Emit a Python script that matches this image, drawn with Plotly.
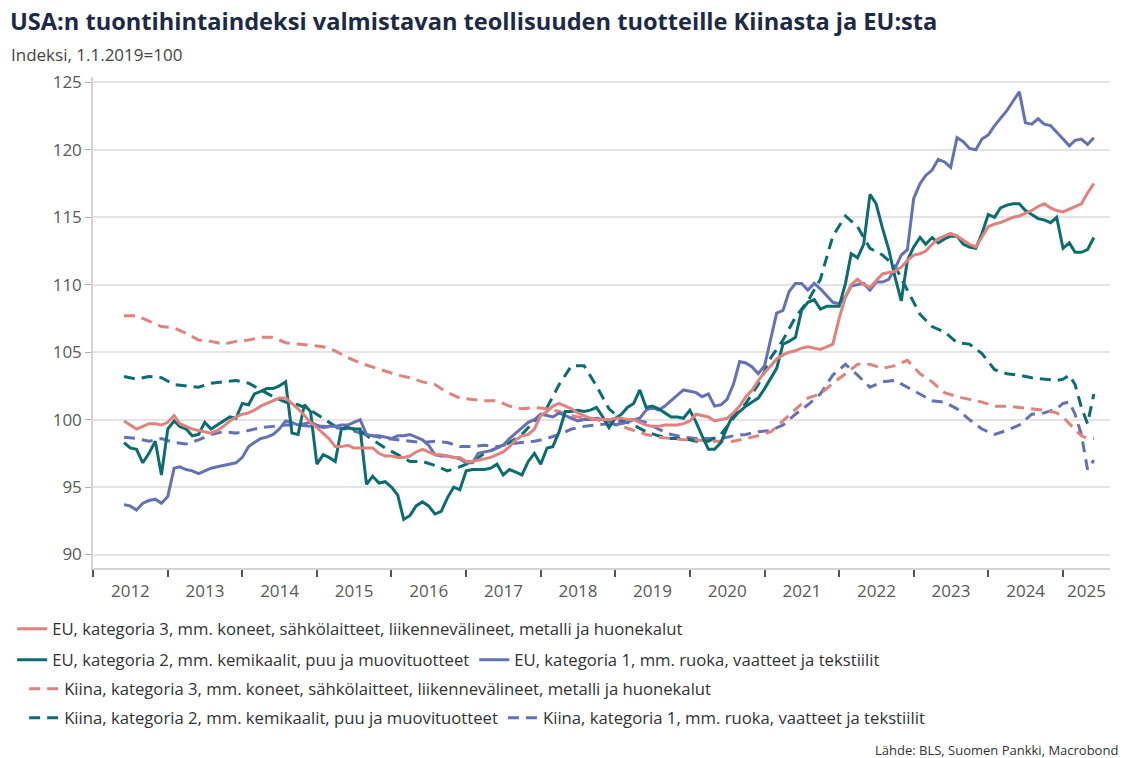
import pandas as pd
import plotly.graph_objects as go

# ---------------- data ----------------
dates_monthly = pd.date_range("2012-06-01", "2025-06-01", freq="MS")
dates_dashed = list(pd.date_range("2012-06-01", "2024-12-01", freq="2MS")) + \
    list(pd.date_range("2025-01-01", "2025-06-01", freq="MS"))

eu_kat3 = [
    99.9, 99.6, 99.3, 99.5, 99.7, 99.7, 99.6,
    99.8, 100.3, 99.7, 99.5, 99.3, 99.2, 99.1, 99.0, 99.2, 99.5, 99.9, 100.2,
    100.4, 100.5, 100.7, 101.0, 101.2, 101.4, 101.6, 101.6, 101.2, 100.8, 100.3, 99.8,
    99.4, 99.0, 98.6, 98.0, 98.0, 98.1, 97.9, 97.9, 97.9, 97.9, 97.5, 97.3,
    97.3, 97.2, 97.2, 97.3, 97.6, 97.8, 97.6, 97.4, 97.4, 97.3, 97.2, 97.2,
    96.9, 96.9, 97.0, 97.1, 97.2, 97.4, 97.6, 98.0, 98.5, 98.8, 98.9, 99.3,
    100.3, 100.6, 101.0, 101.2, 101.0, 100.8, 100.5, 100.3, 100.1, 100.0, 100.0, 100.0,
    100.1, 100.1, 100.0, 100.0, 99.8, 99.6, 99.5, 99.5, 99.6, 99.6, 99.6, 99.7,
    99.9, 100.4, 100.3, 100.2, 99.9, 100.0, 100.1, 100.5, 101.0, 101.7, 102.2, 102.9,
    103.5, 104.0, 104.5, 104.8, 105.0, 105.1, 105.3, 105.4, 105.3, 105.2, 105.4, 105.6,
    107.5, 109.1, 110.0, 110.4, 110.0, 109.8, 110.3, 110.8, 110.9, 111.0, 111.3, 111.8,
    112.2, 112.3, 112.5, 113.0, 113.4, 113.6, 113.8, 113.6, 113.3, 113.0, 112.8, 113.5,
    114.3, 114.5, 114.6, 114.8, 115.0, 115.1, 115.3, 115.5, 115.8, 116.0, 115.7, 115.5,
    115.4, 115.6, 115.8, 116.0, 116.8, 117.5,
]

eu_kat2 = [
    98.3, 97.9, 97.8, 96.8, 97.5, 98.4, 95.9,
    99.3, 99.9, 99.5, 99.3, 98.8, 98.9, 99.8, 99.3, 99.6, 99.9, 100.2, 100.1,
    101.2, 101.1, 101.9, 102.1, 102.3, 102.3, 102.5, 102.8, 99.0, 98.9, 101.1, 100.6,
    96.7, 97.4, 97.2, 96.9, 99.3, 99.4, 99.3, 99.3, 95.2, 95.8, 95.3, 95.4,
    95.0, 94.4, 92.6, 92.9, 93.6, 93.9, 93.6, 93.0, 93.2, 94.2, 95.0, 94.8,
    96.2, 96.3, 96.3, 96.3, 96.4, 96.7, 95.9, 96.3, 96.1, 95.9, 96.9, 97.5,
    96.7, 97.9, 98.0, 99.1, 100.6, 100.6, 100.7, 100.6, 100.7, 100.9, 100.2, 99.4,
    100.1, 100.4, 100.9, 101.2, 102.2, 100.9, 101.0, 100.8, 100.5, 100.2, 100.2, 100.1,
    100.7, 99.8, 98.8, 97.8, 97.8, 98.3, 99.4, 100.4, 100.6, 101.0, 101.3, 101.6,
    102.3, 103.1, 103.8, 105.6, 105.8, 106.1, 108.1, 108.7, 108.9, 108.2, 108.4, 108.4,
    108.4, 110.1, 112.3, 112.0, 113.0, 116.7, 116.0, 114.2, 112.6, 110.6, 108.8, 111.8,
    112.8, 113.5, 113.0, 113.5, 113.1, 113.4, 113.6, 113.6, 113.0, 112.8, 112.7, 113.8,
    115.2, 115.0, 115.7, 115.9, 116.0, 116.0, 115.5, 115.2, 114.9, 114.8, 114.6, 115.0,
    112.7, 113.1, 112.4, 112.4, 112.6, 113.5,
]

eu_kat1 = [
    93.7, 93.6, 93.3, 93.8, 94.0, 94.1, 93.8,
    94.3, 96.4, 96.5, 96.3, 96.2, 96.0, 96.2, 96.4, 96.5, 96.6, 96.7, 96.8,
    97.2, 98.0, 98.3, 98.6, 98.7, 98.9, 99.3, 99.9, 99.8, 99.6, 99.7, 99.8,
    99.6, 99.4, 99.5, 99.5, 99.6, 99.6, 99.8, 100.0, 98.9, 98.8, 98.8, 98.7,
    98.6, 98.8, 98.8, 98.9, 98.7, 98.5, 98.1, 97.4, 97.3, 97.3, 97.2, 97.1,
    96.8, 96.8, 97.5, 97.6, 97.7, 97.9, 98.1, 98.6, 99.0, 99.4, 99.8, 100.0,
    100.4, 100.3, 100.2, 100.5, 100.3, 100.1, 99.9, 100.0, 100.0, 100.1, 100.0, 99.9,
    99.6, 99.7, 99.8, 100.0, 100.1, 100.7, 100.9, 100.7, 101.0, 101.4, 101.8, 102.2,
    102.1, 102.0, 101.7, 101.9, 101.0, 101.1, 101.5, 102.6, 104.3, 104.2, 103.9, 103.4,
    104.0, 106.1, 107.9, 108.1, 109.5, 110.1, 110.1, 109.6, 110.1, 109.7, 109.2, 108.7,
    108.6, 109.1, 109.9, 110.0, 110.1, 109.6, 110.2, 110.2, 110.4, 111.2, 112.2, 112.6,
    116.4, 117.5, 118.1, 118.5, 119.3, 119.1, 118.7, 120.9, 120.6, 120.1, 120.0, 120.8,
    121.1, 121.8, 122.3, 122.9, 123.6, 124.3, 122.0, 121.9, 122.3, 121.9, 121.8, 121.3,
    120.8, 120.3, 120.7, 120.8, 120.4, 120.9,
]

kiina_kat3 = [
    107.7, 107.7, 107.3, 106.9,
    106.8, 106.4, 105.9, 105.8, 105.6, 105.8,
    105.9, 106.1, 106.1, 105.7, 105.6, 105.5,
    105.4, 105.1, 104.6, 104.2, 103.9, 103.6,
    103.3, 103.1, 102.8, 102.6, 102.0, 101.6,
    101.5, 101.4, 101.4, 101.0, 100.8, 100.9,
    100.8, 100.6, 100.3, 100.1, 100.0, 99.8,
    99.5, 99.2, 98.9, 98.7, 98.6, 98.5,
    98.5, 98.4, 98.4, 98.4, 98.6, 98.8,
    99.1, 99.9, 100.8, 101.6, 101.9, 102.7,
    103.4, 104.1, 104.1, 103.8, 104.0, 104.4,
    103.4, 102.8, 102.0, 101.7, 101.5, 101.3,
    101.0, 101.0, 100.9, 100.8, 100.7, 100.5,
    100.2, 99.7, 99.3, 98.8, 98.6, 98.6,
]

kiina_kat2 = [
    103.2, 103.0, 103.2, 103.1,
    102.6, 102.5, 102.4, 102.7, 102.8, 102.9,
    102.7, 102.2, 101.7, 101.3, 101.1, 100.7,
    100.1, 99.5, 99.4, 99.2, 98.5, 97.9,
    97.4, 96.9, 96.9, 96.6, 96.2, 96.5,
    96.9, 97.5, 97.9, 98.3, 98.9, 99.9,
    100.9, 102.6, 104.0, 104.0, 102.5, 100.8,
    100.0, 99.6, 99.1, 98.8, 98.6, 98.6,
    98.4, 98.4, 98.9, 100.1, 101.2, 102.6,
    104.6, 105.9, 107.6, 108.8, 110.4, 113.6,
    115.1, 114.3, 112.7, 112.2, 111.4, 109.6,
    107.8, 106.9, 106.5, 105.7, 105.6, 104.9,
    103.7, 103.4, 103.3, 103.1, 103.0, 102.9,
    103.0, 103.3, 102.6, 100.9, 99.7, 101.9,
]

kiina_kat1 = [
    98.7, 98.6, 98.4, 98.6,
    98.3, 98.2, 98.5, 98.9, 99.1, 99.0,
    99.2, 99.4, 99.5, 99.6, 99.6, 99.5,
    99.5, 99.4, 99.3, 99.0, 98.8, 98.6,
    98.5, 98.4, 98.3, 98.4, 98.3, 98.0,
    98.0, 98.1, 98.0, 98.2, 98.3, 98.4,
    98.6, 98.9, 99.3, 99.5, 99.6, 99.7,
    99.9, 100.0, 99.8, 99.3, 98.9, 98.7,
    98.6, 98.6, 98.6, 98.8, 98.9, 99.1,
    99.2, 99.6, 100.4, 101.1, 101.9, 103.3,
    104.1, 103.3, 102.4, 102.8, 102.9, 102.4,
    101.9, 101.4, 101.3, 100.8, 100.0, 99.3,
    98.9, 99.2, 99.6, 100.4, 100.5, 100.8,
    101.2, 101.3, 100.4, 98.9, 96.3, 97.0,
]

names = {
    "eu3": "EU, kategoria 3, mm. koneet, sähkölaitteet, liikennevälineet, metalli ja huonekalut",
    "eu2": "EU, kategoria 2, mm. kemikaalit, puu ja muovituotteet",
    "eu1": "EU, kategoria 1, mm. ruoka, vaatteet ja tekstiilit",
    "ki3": "Kiina, kategoria 3, mm. koneet, sähkölaitteet, liikennevälineet, metalli ja huonekalut",
    "ki2": "Kiina, kategoria 2, mm. kemikaalit, puu ja muovituotteet",
    "ki1": "Kiina, kategoria 1, mm. ruoka, vaatteet ja tekstiilit",
}
year_labels = [str(y) for y in range(2012, 2026)]

# ---------------- styling ----------------
PINK = "#e0827d"
TEAL = "#0b6d6f"
BLUE = "#6571b6"
FONT = "Open Sans"
W, H = 1124, 758
ML, MR, MT, MB = 91, 14, 77, 190
PW, PH = W - ML - MR, H - MT - MB
X_START, X_END = pd.Timestamp("2012-01-01"), pd.Timestamp("2025-08-19")
Y_MIN, Y_MAX = 89, 125.4
DASH = "11px,7px"


def px(xp):
    return (xp - ML) / PW


def py(yp):
    return (H - MB - yp) / PH


fig = go.Figure()
traces = [
    (dates_dashed, kiina_kat1, names["ki1"], BLUE, DASH, "legend4", 2),
    (dates_dashed, kiina_kat2, names["ki2"], TEAL, DASH, "legend4", 1),
    (dates_dashed, kiina_kat3, names["ki3"], PINK, DASH, "legend3", 1),
    (dates_monthly, eu_kat1, names["eu1"], BLUE, "solid", "legend2", 2),
    (dates_monthly, eu_kat2, names["eu2"], TEAL, "solid", "legend2", 1),
    (dates_monthly, eu_kat3, names["eu3"], PINK, "solid", "legend", 1),
]
for xs, ys, nm, col, dash, lg, rank in traces:
    fig.add_trace(go.Scatter(
        x=xs, y=ys, name=nm, mode="lines",
        line=dict(color=col, width=3, dash=dash),
        legend=lg, legendrank=rank,
    ))

# x tick label positions: centre of each year's visible span
label_pos = []
for y in range(2012, 2026):
    a = max(pd.Timestamp(f"{y}-01-01"), X_START)
    b = min(pd.Timestamp(f"{y + 1}-01-01"), X_END)
    label_pos.append(a + (b - a) / 2)

legend_common = dict(
    orientation="h", xanchor="left", yanchor="middle",
    font=dict(family=FONT, size=16.7, color="#333333"),
    bgcolor="rgba(0,0,0,0)", itemwidth=30, tracegroupgap=0,
    xref="paper", yref="paper",
)

fig.update_layout(
    width=W, height=H,
    margin=dict(l=ML, r=MR, t=MT, b=MB),
    paper_bgcolor="white", plot_bgcolor="white",
    font=dict(family=FONT, color="#333333"),
    title=dict(
        text="USA:n tuontihintaindeksi valmistavan teollisuuden tuotteille Kiinasta ja EU:sta",
        x=10 / W, xanchor="left", xref="container",
        y=1 - 22 / H, yanchor="middle", yref="container",
        font=dict(family=FONT, size=23.6, color="#1c2a48", weight=700),
    ),
    xaxis=dict(
        type="date", range=[X_START, X_END],
        tickmode="array", tickvals=label_pos, ticktext=year_labels,
        ticks="", showgrid=False, zeroline=False,
        showline=True, linecolor="#d4d4d4", linewidth=1.5,
        tickfont=dict(family=FONT, size=17, color="#595959"),
        ticklabelstandoff=7,
        minor=dict(ticks="outside", ticklen=7, tickwidth=1.5, tickcolor="#555555",
                   dtick="M12", tick0="2012-01-01", showgrid=False),
    ),
    yaxis=dict(
        range=[Y_MIN, Y_MAX], tickmode="array",
        tickvals=[90, 95, 100, 105, 110, 115, 120, 125],
        showgrid=True, gridcolor="#e4e4e4", gridwidth=1.5, zeroline=False,
        showline=True, linecolor="#d4d4d4", linewidth=1.5,
        ticks="outside", ticklen=6, tickwidth=1, tickcolor="#b0b0b0",
        tickfont=dict(family=FONT, size=17, color="#595959"),
    ),
    legend=dict(x=px(10), y=py(629), **legend_common),
    legend2=dict(x=px(10), y=py(660), **legend_common),
    legend3=dict(x=px(22), y=py(689), **legend_common),
    legend4=dict(x=px(22), y=py(718), **legend_common),
    showlegend=True,
)

fig.add_annotation(
    text="Indeksi, 1.1.2019=100", xref="paper", yref="paper",
    x=px(7), y=py(55), xanchor="left", yanchor="middle", showarrow=False,
    font=dict(family=FONT, size=17, color="#444444"),
)
fig.add_annotation(
    text="Lähde: BLS, Suomen Pankki, Macrobond", xref="paper", yref="paper",
    x=px(1120), y=py(750), xanchor="right", yanchor="middle", showarrow=False,
    font=dict(family=FONT, size=13, color="#333333"),
)

fig.write_html("out.html", config={"displayModeBar": False},
               post_script="document.body.style.margin='0';")
